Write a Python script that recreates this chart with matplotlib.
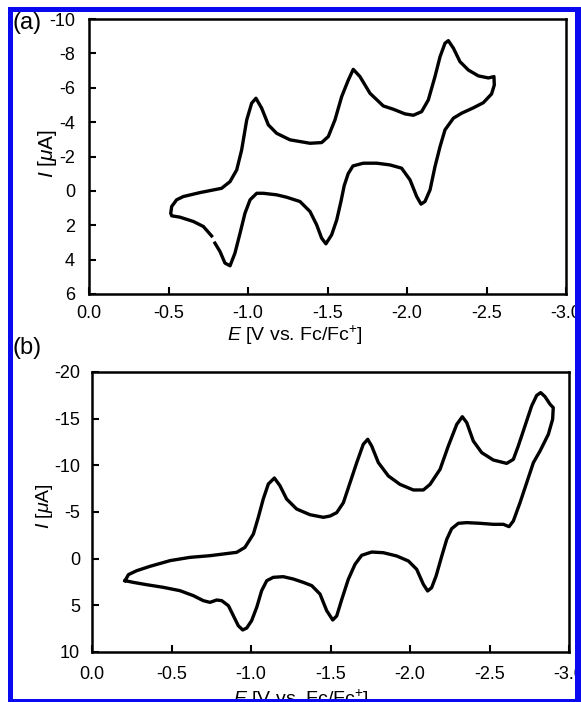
import matplotlib
matplotlib.use('Agg')
import matplotlib.pyplot as plt
from matplotlib.patches import Rectangle

plt.rcParams['font.family'] = ['Liberation Sans', 'DejaVu Sans']
plt.rcParams['mathtext.fontset'] = 'custom'
plt.rcParams['mathtext.rm'] = 'Liberation Sans'
plt.rcParams['mathtext.it'] = 'Liberation Sans:italic'
plt.rcParams['axes.unicode_minus'] = False

# panel (a) CV (E in V vs Fc/Fc+, I in uA)
a_E = [-0.771, -0.719, -0.656, -0.572, -0.52, -0.514, -0.52, -0.551, -0.593, -0.698,
       -0.834, -0.887, -0.929, -0.960, -0.992, -1.023, -1.050, -1.086, -1.128, -1.18,
       -1.264, -1.39, -1.463, -1.505, -1.547, -1.589, -1.631, -1.662, -1.704, -1.767,
       -1.851, -1.914, -1.987, -2.04, -2.092, -2.134, -2.176, -2.208, -2.239, -2.26,
       -2.292, -2.333, -2.386, -2.449, -2.512, -2.547,
       -2.549, -2.532, -2.48, -2.417, -2.344, -2.292, -2.239, -2.208, -2.176, -2.145,
       -2.113, -2.088, -2.061, -2.019, -1.966, -1.893, -1.81, -1.725, -1.66, -1.63,
       -1.605, -1.585, -1.558, -1.526, -1.49, -1.463, -1.432, -1.39, -1.327, -1.243,
       -1.18, -1.096, -1.055, -1.013, -0.981, -0.950, -0.918, -0.887, -0.855, -0.824,
       -0.792]
a_I = [2.62, 2.07, 1.78, 1.53, 1.45, 1.30, 0.91, 0.52, 0.33, 0.10,
       -0.15, -0.54, -1.22, -2.38, -4.13, -5.10, -5.39, -4.81, -3.84, -3.35,
       -2.97, -2.77, -2.81, -3.16, -4.13, -5.48, -6.45, -7.07, -6.65, -5.68,
       -4.94, -4.75, -4.48, -4.40, -4.61, -5.29, -6.65, -7.81, -8.59, -8.74,
       -8.30, -7.52, -7.03, -6.69, -6.57, -6.65,
       -6.16, -5.64, -5.13, -4.83, -4.52, -4.23, -3.55, -2.58, -1.41, -0.06,
       0.62, 0.77, 0.33, -0.64, -1.32, -1.51, -1.61, -1.61, -1.45, -1.0,
       -0.3, 0.6, 1.69, 2.56, 3.08, 2.75, 1.98, 1.20, 0.62, 0.37,
       0.23, 0.14, 0.14, 0.52, 1.30, 2.46, 3.62, 4.36, 4.20, 3.53,
       3.04]

# panel (b) CV
b_E = [-0.208, -0.229, -0.281, -0.365, -0.491, -0.616, -0.742, -0.826, -0.91, -0.962,
       -1.015, -1.046, -1.077, -1.109, -1.147, -1.182, -1.224, -1.287, -1.371, -1.455,
       -1.497, -1.539, -1.581, -1.623, -1.665, -1.706, -1.734, -1.759, -1.801, -1.864,
       -1.937, -2.021, -2.084, -2.126, -2.189, -2.241, -2.294, -2.329, -2.357, -2.398,
       -2.451, -2.524, -2.608, -2.65, -2.681, -2.723, -2.765, -2.797, -2.822, -2.849,
       -2.881, -2.901,
       -2.897, -2.87, -2.818, -2.776, -2.734, -2.692, -2.65, -2.623, -2.587, -2.524,
       -2.44, -2.357, -2.304, -2.262, -2.231, -2.2, -2.164, -2.136, -2.111, -2.084,
       -2.042, -1.99, -1.916, -1.832, -1.759, -1.696, -1.654, -1.612, -1.571, -1.539,
       -1.514, -1.476, -1.434, -1.382, -1.329, -1.266, -1.203, -1.14, -1.099, -1.067,
       -1.036, -1.004, -0.973, -0.948, -0.92, -0.889, -0.858, -0.816, -0.784, -0.742,
       -0.7, -0.637, -0.553, -0.448, -0.344, -0.26, -0.208]
b_I = [2.36, 1.71, 1.29, 0.82, 0.21, -0.14, -0.32, -0.50, -0.68, -1.21,
       -2.64, -4.43, -6.39, -8.0, -8.64, -7.82, -6.39, -5.32, -4.71, -4.43,
       -4.57, -4.93, -6.0, -8.14, -10.29, -12.25, -12.79, -12.07, -10.29, -8.86,
       -7.96, -7.36, -7.36, -7.96, -9.57, -12.07, -14.39, -15.21, -14.57, -12.61,
       -11.36, -10.57, -10.21, -10.64, -12.07, -14.21, -16.36, -17.5, -17.79, -17.36,
       -16.54, -16.18,
       -14.93, -13.32, -11.54, -10.29, -8.14, -6.0, -4.04, -3.43, -3.68, -3.68,
       -3.79, -3.86, -3.79, -3.21, -2.07, -0.29, 1.86, 3.11, 3.46, 2.75,
       1.14, 0.25, -0.29, -0.64, -0.71, -0.36, 0.61, 2.21, 4.36, 6.14,
       6.57, 5.57, 3.79, 2.89, 2.54, 2.18, 1.93, 2.0, 2.36, 3.43,
       5.21, 6.64, 7.43, 7.64, 7.18, 6.11, 5.04, 4.5, 4.43, 4.68,
       4.5, 3.96, 3.43, 3.07, 2.79, 2.54, 2.36]

x_ticks = [0.0, -0.5, -1.0, -1.5, -2.0, -2.5, -3.0]
a_yticks = [-10, -8, -6, -4, -2, 0, 2, 4, 6]
b_yticks = [-20, -15, -10, -5, 0, 5, 10]

W, H = 581, 702
fig = plt.figure(figsize=(W / 100, H / 100), dpi=100)


def px_axes(left, top, right, bottom):
    return fig.add_axes([left / W, (H - bottom) / H, (right - left) / W, (bottom - top) / H])


def style(ax, yticks, ylim, xpad, ypad):
    ax.set_xlim(0, -3.0)
    ax.set_ylim(ylim)
    ax.set_xticks(x_ticks)
    ax.set_xticklabels(['%.1f' % t for t in x_ticks])
    ax.set_yticks(yticks)
    ax.set_yticklabels([str(t) for t in yticks])
    ax.tick_params(direction='in', length=5, width=1.5, labelsize=13,
                   top=False, right=False)
    ax.tick_params(axis='x', pad=xpad)
    ax.tick_params(axis='y', pad=ypad)
    for s in ax.spines.values():
        s.set_linewidth(1.8)


ax1 = px_axes(89, 19, 566, 294)
ax1.plot(a_E, a_I, color='black', lw=2.4, solid_joinstyle='round')
style(ax1, a_yticks, (6, -10), 8, 10)
ax1.set_xlabel(r'$E$ [V vs. Fc/Fc$^{+}$]', fontsize=14)
ax1.xaxis.set_label_coords(0.432, -0.108)
ax1.set_ylabel(r'$I$ [$\mu$A]', fontsize=15)
ax1.yaxis.set_label_coords(-0.062, 0.511)

ax2 = px_axes(92, 372, 569, 652)
ax2.plot(b_E, b_I, color='black', lw=2.4, solid_joinstyle='round')
style(ax2, b_yticks, (10, -20), 10, 8.5)
ax2.set_xlabel(r'$E$ [V vs. Fc/Fc$^{+}$]', fontsize=14)
ax2.xaxis.set_label_coords(0.438, -0.128)
ax2.set_ylabel(r'$I$ [$\mu$A]', fontsize=14)
ax2.yaxis.set_label_coords(-0.078, 0.521)

fig.text(12 / W, 1 - 23 / H, '(a)', fontsize=17, va='center', ha='left')
fig.text(13 / W, 1 - 348 / H, '(b)', fontsize=17, va='center', ha='left')

# blue frame round the figure
blue = '#0a0af0'
for (x0, y0, x1, y1) in [(8, 7, 581, 12), (8, 7, 13, 702), (575, 7, 581, 702), (8, 699, 581, 702)]:
    fig.add_artist(Rectangle((x0 / W, 1 - y1 / H), (x1 - x0) / W, (y1 - y0) / H,
                             transform=fig.transFigure, color=blue, lw=0, zorder=10))

plt.savefig('out.png', dpi=100)
